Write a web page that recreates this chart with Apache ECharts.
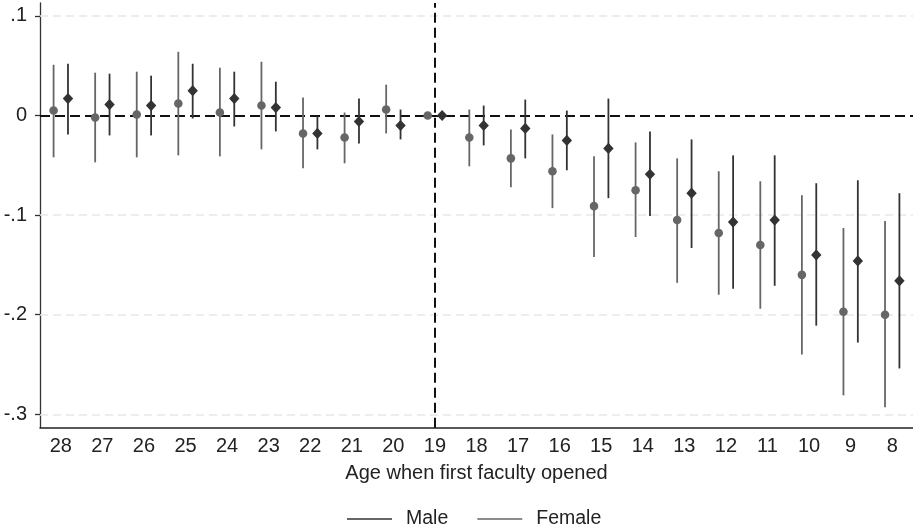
<!DOCTYPE html>
<html>
<head>
<meta charset="utf-8">
<script src="https://cdn.jsdelivr.net/npm/echarts@6/dist/echarts.min.js"></script>
<style>
  html, body { margin: 0; padding: 0; background: #fff; }
  #chart { width: 913px; height: 529px; }
</style>
</head>
<body>
<div id="chart"></div>
<script>
var ages = ['28','27','26','25','24','23','22','21','20','19','18','17','16','15','14','13','12','11','10','9','8'];

// female estimates and 95% bounds
var femaleEst = [0.005, -0.002, 0.001, 0.012, 0.003, 0.010, -0.018, -0.022, 0.006, 0, -0.022, -0.043, -0.056, -0.091, -0.075, -0.105, -0.118, -0.130, -0.160, -0.197, -0.200];
var femaleLo  = [-0.042, -0.047, -0.042, -0.040, -0.041, -0.034, -0.053, -0.048, -0.018, 0, -0.051, -0.072, -0.093, -0.142, -0.122, -0.168, -0.180, -0.194, -0.240, -0.281, -0.293];
var femaleHi  = [0.051, 0.043, 0.044, 0.064, 0.048, 0.054, 0.018, 0.003, 0.031, 0, 0.006, -0.014, -0.019, -0.041, -0.027, -0.043, -0.056, -0.066, -0.080, -0.113, -0.106];

// male estimates and 95% bounds
var maleEst = [0.017, 0.011, 0.010, 0.025, 0.017, 0.008, -0.018, -0.006, -0.010, 0, -0.010, -0.013, -0.025, -0.033, -0.059, -0.078, -0.107, -0.105, -0.140, -0.146, -0.166];
var maleLo  = [-0.019, -0.020, -0.020, -0.003, -0.011, -0.016, -0.034, -0.028, -0.024, 0, -0.030, -0.043, -0.055, -0.083, -0.101, -0.133, -0.174, -0.171, -0.211, -0.228, -0.254];
var maleHi  = [0.052, 0.042, 0.040, 0.052, 0.044, 0.034, -0.001, 0.017, 0.006, 0, 0.010, 0.016, 0.005, 0.017, -0.016, -0.024, -0.040, -0.040, -0.068, -0.065, -0.078];

var yTicks = [-0.3, -0.2, -0.1, 0, 0.1];

var FONT = '"Liberation Sans", Arial, sans-serif';
var femaleColor = '#666666';
var maleColor = '#333333';

function rows(est, lo, hi) {
  return ages.map(function (a, i) { return [i, est[i], lo[i], hi[i]]; });
}

function makeRender(shift, color, diamond) {
  return function (params, api) {
    var w = api.size([1, 0])[0];
    var p = api.coord([api.value(0), api.value(1)]);
    var lo = api.coord([api.value(0), api.value(2)]);
    var hi = api.coord([api.value(0), api.value(3)]);
    var x = p[0] + w * shift;
    var marker;
    if (diamond) {
      marker = {
        type: 'polygon',
        shape: { points: [[x, p[1] - 5.6], [x + 5.2, p[1]], [x, p[1] + 5.6], [x - 5.2, p[1]]] },
        style: { fill: color }
      };
    } else {
      marker = {
        type: 'circle',
        shape: { cx: x, cy: p[1], r: 4.3 },
        style: { fill: color }
      };
    }
    return {
      type: 'group',
      children: [
        {
          type: 'line',
          shape: { x1: x, y1: hi[1], x2: x, y2: lo[1] },
          style: { stroke: color, lineWidth: 1.8 }
        },
        marker
      ]
    };
  };
}

var chart = echarts.init(document.getElementById('chart'));

var option = {
  animation: false,
  textStyle: { fontFamily: FONT },
  grid: { left: 40, right: 0, top: 3, bottom: 101.3 },
  legend: {
    data: [
      { name: 'Male', icon: 'rect' },
      { name: 'Female', icon: 'rect' }
    ],
    top: 509,
    left: 347,
    padding: 0,
    itemWidth: 45,
    itemHeight: 1.6,
    itemGap: 29,
    textStyle: { fontSize: 19.5, color: '#222', fontFamily: FONT, padding: [0, 0, 0, 9] }
  },
  xAxis: {
    type: 'category',
    data: ages,
    boundaryGap: true,
    name: 'Age when first faculty opened',
    nameLocation: 'middle',
    nameGap: 36,
    nameTextStyle: { fontSize: 20, color: '#222', fontFamily: FONT },
    axisLine: { onZero: false, lineStyle: { color: '#222', width: 1.5 } },
    axisTick: { alignWithLabel: true, length: 6, lineStyle: { color: '#222', width: 1.3 } },
    axisLabel: { fontSize: 20, color: '#222', margin: 9, interval: 0, fontFamily: FONT },
    splitLine: { show: false }
  },
  yAxis: {
    type: 'value',
    min: -0.3135,
    max: 0.113,
    axisLine: { show: true, lineStyle: { color: '#333', width: 1.3 } },
    axisTick: { show: true, length: 5, customValues: yTicks, lineStyle: { color: '#333', width: 1.3 } },
    axisLabel: {
      fontSize: 20, color: '#222', margin: 13, fontFamily: FONT,
      customValues: yTicks,
      formatter: function (v) {
        if (Math.abs(v) < 1e-9) return '0';
        var s = String(Math.round(Math.abs(v) * 10) / 10).replace(/^0/, '');
        return (v < 0 ? '-' : '') + s;
      }
    },
    splitLine: { show: false }
  },
  series: [
    {
      name: 'Female',
      type: 'custom',
      color: femaleColor,
      itemStyle: { color: femaleColor },
      renderItem: makeRender(-0.173, femaleColor, false),
      encode: { x: 0, y: [1, 2, 3] },
      data: rows(femaleEst, femaleLo, femaleHi),
      z: 3,
      markLine: {
        silent: true,
        symbol: 'none',
        z: 1,
        label: { show: false },
        lineStyle: { color: '#e8e8e8', width: 1.5, type: [8, 5] },
        data: [{ yAxis: -0.3 }, { yAxis: -0.2 }, { yAxis: -0.1 }, { yAxis: 0.1 }]
      }
    },
    {
      name: 'Male',
      type: 'custom',
      color: maleColor,
      itemStyle: { color: maleColor },
      renderItem: makeRender(0.173, maleColor, true),
      encode: { x: 0, y: [1, 2, 3] },
      data: rows(maleEst, maleLo, maleHi),
      z: 3,
      markLine: {
        silent: true,
        symbol: 'none',
        z: 2,
        label: { show: false },
        lineStyle: { color: '#111', width: 2, type: [10, 5] },
        data: [{ yAxis: 0 }, { xAxis: '19' }]
      }
    }
  ]
};

chart.setOption(option);
</script>
</body>
</html>
